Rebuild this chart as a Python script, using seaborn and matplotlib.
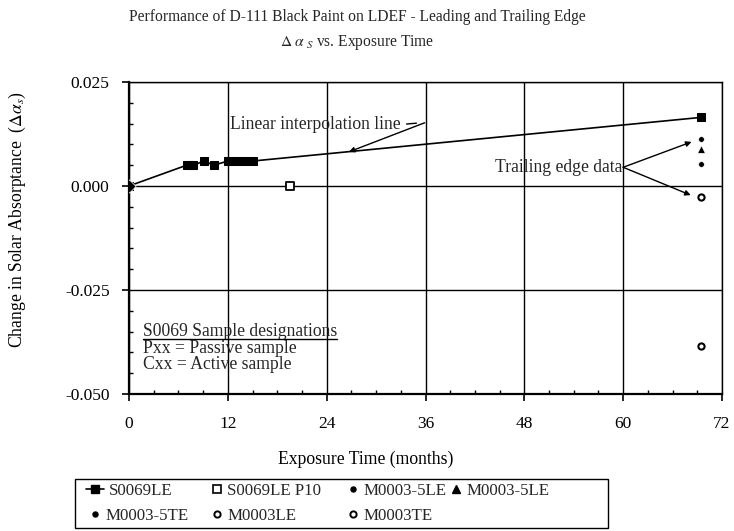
import matplotlib
matplotlib.use("Agg")
import matplotlib.pyplot as plt
import seaborn as sns
import pandas as pd
from matplotlib.lines import Line2D
from matplotlib.patches import Rectangle

# ---- data ----
le_months = [0, 7.0, 7.4, 7.8, 9.1, 10.3, 12.0, 12.75, 13.5, 14.25, 15.0, 69.5]
le_dalpha = [0.0, 0.005, 0.005, 0.005, 0.006, 0.005, 0.006, 0.006, 0.006, 0.006, 0.006, 0.0165]
p10_months = [19.6]
p10_dalpha = [0.0]
m5le_dot_months = [69.5]
m5le_dot_dalpha = [0.0113]
m5le_tri_months = [69.5]
m5le_tri_dalpha = [0.0089]
m5te_months = [69.5]
m5te_dalpha = [0.0053]
m3le_months = [69.5]
m3le_dalpha = [-0.0385]
m3te_months = [69.5]
m3te_dalpha = [-0.0026]

xticks = [0, 12, 24, 36, 48, 60, 72]
yticks = [-0.050, -0.025, 0.000, 0.025]
ytick_labels = ["-0.050", "-0.025", "0.000", "0.025"]

sns.set_theme(style="white")
plt.rcParams['font.family'] = ['Liberation Serif', 'DejaVu Serif']
plt.rcParams['mathtext.fontset'] = 'stix'

W, H = 734, 531
fig = plt.figure(figsize=(W / 100, H / 100), dpi=100)
ax = fig.add_axes([129 / W, 1 - 394 / H, 593 / W, 312 / H])
FS = 12.7
LFS = 12.2

df_le = pd.DataFrame({"m": le_months, "d": le_dalpha})
sns.lineplot(data=df_le, x="m", y="d", ax=ax, color="black", lw=1.2,
             marker="s", markersize=6, markeredgecolor="black", sort=False)
sns.scatterplot(x=[le_months[0]], y=[le_dalpha[0]], ax=ax, marker="D", s=45, color="black", zorder=5)
sns.scatterplot(x=p10_months, y=p10_dalpha, ax=ax, marker="s", s=32,
                facecolor="white", edgecolor="black", linewidth=1.3, zorder=5)
sns.scatterplot(x=m5le_dot_months, y=m5le_dot_dalpha, ax=ax, marker="o", s=16, color="black", zorder=5)
sns.scatterplot(x=m5le_tri_months, y=m5le_tri_dalpha, ax=ax, marker="^", s=30, color="black", zorder=5)
sns.scatterplot(x=m5te_months, y=m5te_dalpha, ax=ax, marker="o", s=16, color="black", zorder=5)
sns.scatterplot(x=m3le_months, y=m3le_dalpha, ax=ax, marker="o", s=20,
                facecolor="white", edgecolor="black", linewidth=1.5, zorder=5)
sns.scatterplot(x=m3te_months, y=m3te_dalpha, ax=ax, marker="o", s=20,
                facecolor="white", edgecolor="black", linewidth=1.5, zorder=5)

ax.set_xlim(0, 72)
ax.set_ylim(-0.050, 0.025)
ax.set_xticks(xticks)
ax.set_xticklabels([str(v) for v in xticks])
ax.set_yticks(yticks)
ax.set_yticklabels(ytick_labels)
ax.set_xticks([v for v in range(0, 73, 3)], minor=True)
ax.set_yticks([-0.045, -0.04, -0.035, -0.03, -0.02, -0.015, -0.01, -0.005,
               0.005, 0.01, 0.015, 0.02], minor=True)
ax.grid(True, which="major", color="black", lw=1.0)
for s in ax.spines.values():
    s.set_color("black")
    s.set_linewidth(1.0)
ax.spines['left'].set_linewidth(1.6)
ax.spines['bottom'].set_linewidth(1.6)
ax.tick_params(axis="both", which="major", direction="out", length=5, width=1.2,
               colors="black", labelsize=12.5, pad=9, bottom=True, left=True)
ax.tick_params(axis="x", which="major", pad=11)
ax.tick_params(axis="x", which="minor", direction="in", length=3, width=1, colors="black",
               bottom=True)
ax.tick_params(axis="y", which="minor", direction="in", length=3, width=1, colors="black",
               left=True)
ax.set_xlabel("Exposure Time (months)", fontsize=FS, color="black")
ax.xaxis.set_label_coords((366 - 129) / 593, -(451 - 394) / 312)
ax.set_ylabel(r"Change in Solar Absorptance  ($\Delta\alpha_{s}$)", fontsize=FS, color="black")
ax.yaxis.set_label_coords((28 - 129) / 593, (394 - 220) / 312)

fig.text(357 / W, 1 - 17 / H, "Performance of D-111 Black Paint on LDEF - Leading and Trailing Edge",
         ha="center", va="center", fontsize=11.2)
fig.text(357 / W, 1 - 42 / H, r"$\Delta\ \alpha_{\ S}$ vs. Exposure Time",
         ha="center", va="center", fontsize=11.2)

# annotations
ax.text(12.3, 0.0149, "Linear interpolation line", fontsize=FS, va="center", ha="left")
ax.annotate("", xy=(34.9, 0.0151), xytext=(33.7, 0.0149),
            arrowprops=dict(arrowstyle="-", color="black", lw=1.0, shrinkA=0, shrinkB=0))
ax.annotate("", xy=(26.7, 0.0082), xytext=(35.9, 0.0152),
            arrowprops=dict(arrowstyle="-|>", color="black", lw=1.0, mutation_scale=8,
                            shrinkA=0, shrinkB=0))
ax.text(59.9, 0.0045, "Trailing edge data", fontsize=FS, va="center", ha="right")
ax.annotate("", xy=(68.3, 0.0106), xytext=(60.0, 0.0045),
            arrowprops=dict(arrowstyle="-|>", color="black", lw=1.0, mutation_scale=8,
                            shrinkA=0, shrinkB=0))
ax.annotate("", xy=(68.2, -0.0022), xytext=(60.0, 0.0045),
            arrowprops=dict(arrowstyle="-|>", color="black", lw=1.0, mutation_scale=8,
                            shrinkA=0, shrinkB=0))

head = ax.text(1.7, -0.0350, "S0069 Sample designations", fontsize=FS, va="center", ha="left")
ax.text(1.7, -0.0391, "Pxx = Passive sample", fontsize=FS, va="center", ha="left")
ax.text(1.7, -0.0430, "Cxx = Active sample", fontsize=FS, va="center", ha="left")

# legend entries placed individually
def entry(handle, x_px, y_px, hl):
    fig.legend(handles=[handle], loc="center left", bbox_to_anchor=(x_px / W, 1 - y_px / H),
               frameon=False, fontsize=LFS, handlelength=hl, handletextpad=0.3,
               borderpad=0, borderaxespad=0)

r1, r2 = 491, 516
entry(Line2D([], [], color="black", lw=1.2, marker="s", markersize=5.5, label="S0069LE"), 86, r1, 1.05)
entry(Line2D([], [], ls="none", marker="o", markersize=3.6, color="black", label="M0003-5TE"), 90, r2, 0.6)
entry(Line2D([], [], ls="none", marker="s", markersize=5.5, markerfacecolor="white",
             markeredgecolor="black", markeredgewidth=1.2, label="S0069LE P10"), 212, r1, 0.6)
entry(Line2D([], [], ls="none", marker="o", markersize=4.5, markerfacecolor="white",
             markeredgecolor="black", markeredgewidth=1.4, label="M0003LE"), 212, r2, 0.6)
entry(Line2D([], [], ls="none", marker="o", markersize=3.6, color="black", label="M0003-5LE"), 348, r1, 0.6)
entry(Line2D([], [], ls="none", marker="o", markersize=4.5, markerfacecolor="white",
             markeredgecolor="black", markeredgewidth=1.4, label="M0003TE"), 348, r2, 0.6)
entry(Line2D([], [], ls="none", marker="^", markersize=5.5, color="black", label="M0003-5LE"), 451, r1, 0.6)

fig.patches.append(Rectangle((75 / W, 1 - 528 / H), (608 - 75) / W, (528 - 479) / H,
                             transform=fig.transFigure, fill=False, edgecolor="black", lw=1.0))

# underline of the designations heading
fig.canvas.draw()
bb = head.get_window_extent()
y_ul = bb.y0 + 1
fig.add_artist(Line2D([bb.x0 / W, bb.x1 / W], [y_ul / H, y_ul / H], transform=fig.transFigure,
                      color="black", lw=1.0))

fig.savefig("out.png", dpi=100)
